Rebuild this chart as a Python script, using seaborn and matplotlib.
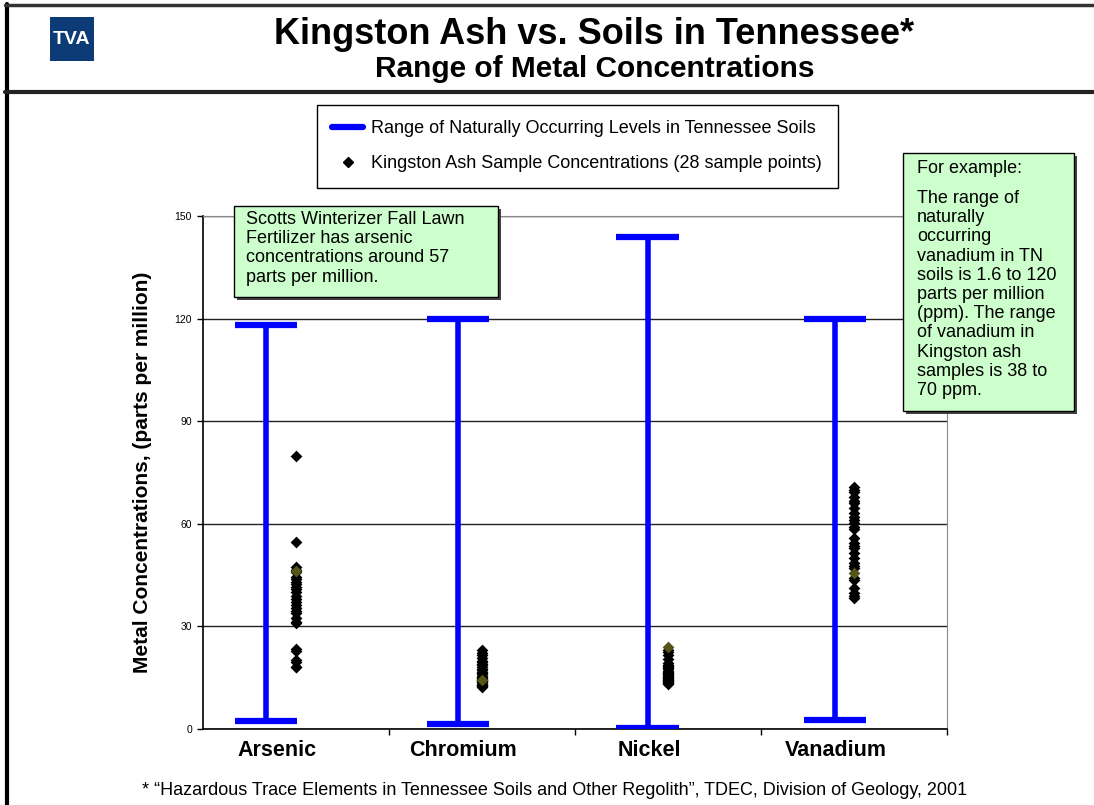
"""
Kingston Ash vs. Soils in Tennessee — rango de concentraciones de metales.
Barras azules = rango natural en suelos de TN; rombos = muestras de ceniza.
"""
import numpy as np
import pandas as pd
import matplotlib
matplotlib.use("Agg")
import matplotlib.pyplot as plt
from matplotlib.lines import Line2D
from matplotlib.patches import Rectangle
import seaborn as sns

# ===== datos =====
METALS = ["Arsenic", "Chromium", "Nickel", "Vanadium"]
SOIL_LOW = [2.3, 1.4, 0.2, 2.6]
SOIL_HIGH = [118, 120, 144, 120]

ARSENIC = [79.8, 54.8, 47.5, 46.5, 45.8, 44.5, 43.9, 43.1, 42.5, 41.6, 40.8, 40.0,
           38.9, 38.0, 37.2, 36.3, 35.5, 34.6, 33.8, 32.5, 31.4, 31.0, 23.3, 22.8,
           20.2, 19.5, 18.2, 18.0]
CHROMIUM = [23.0, 22.2, 21.5, 20.8, 20.0, 19.5, 19.0, 18.6, 18.0, 17.6, 17.2, 16.8,
            16.4, 16.0, 15.6, 15.3, 15.0, 14.7, 14.4, 14.2, 14.0, 13.8, 13.6, 13.3,
            13.0, 12.8, 12.6, 12.4]
NICKEL = [23.2, 22.4, 21.6, 20.4, 19.3, 18.8, 18.4, 18.0, 17.7, 17.4, 17.1, 16.8,
          16.5, 16.3, 16.0, 15.8, 15.5, 15.3, 15.0, 14.8, 14.6, 14.4, 14.2, 14.0,
          13.8, 13.6, 13.4, 13.3]
VANADIUM = [70.8, 70.0, 69.4, 67.9, 66.8, 66.0, 64.5, 63.1, 62.0, 61.1, 60.1, 59.2,
            58.5, 55.8, 54.3, 53.5, 52.8, 51.4, 49.9, 48.4, 47.8, 47.0, 44.1, 43.5,
            41.1, 39.7, 38.9, 38.2]
# muestras que aparecen en tono oliva en el original
OLIVE = [46.3, 14.3, 24.1, 45.5]

# ===== estilo / posiciones =====
W, H = 1094, 805
BLUE = "#0000ff"
GREEN_BOX = "#ccffcc"
RANGE_SHIFT = [-0.16, -0.13, -0.11, -0.10]   # las barras van algo a la izquierda
CAP_HALF = 0.167
LABEL_SHIFT = -0.1
FS = 13


def fx(x):
    return x / W


def fy(y):
    return 1 - y / H


def note_box(fig, x0, y0, x1, y1):
    """Caja verde con sombra, en píxeles de la figura."""
    fig.add_artist(Rectangle((fx(x0 + 3), fy(y1 + 3)), fx(x1 - x0), (y1 - y0) / H,
                             transform=fig.transFigure, fc="#444444", ec="none"))
    fig.add_artist(Rectangle((fx(x0), fy(y1)), fx(x1 - x0), (y1 - y0) / H,
                             transform=fig.transFigure, fc=GREEN_BOX, ec="black", lw=1))


sns.set_style("white")
plt.rcParams["font.family"] = ["Liberation Sans", "DejaVu Sans"]
for k in ["text.color", "axes.labelcolor", "xtick.color", "ytick.color"]:
    plt.rcParams[k] = "black"

samples = pd.DataFrame({
    "metal": np.repeat(METALS, 28),
    "ppm": ARSENIC + CHROMIUM + NICKEL + VANADIUM,
})
olive = pd.DataFrame({"metal": METALS, "ppm": OLIVE})

fig = plt.figure(figsize=(W / 100, H / 100), dpi=100)
ax = fig.add_axes([fx(203), fy(729), fx(947 - 203), (729 - 216) / H])

sns.stripplot(data=samples, x="metal", y="ppm", order=METALS, jitter=False,
              marker="D", color="black", size=6, linewidth=0, ax=ax, zorder=4)
sns.stripplot(data=olive, x="metal", y="ppm", order=METALS, jitter=False,
              marker="D", color="#55551a", size=6, linewidth=0, ax=ax, zorder=5)

xpos = np.arange(len(METALS)) + np.array(RANGE_SHIFT)
ax.vlines(xpos, SOIL_LOW, SOIL_HIGH, color=BLUE, lw=4, zorder=3)
ax.hlines(SOIL_LOW, xpos - CAP_HALF, xpos + CAP_HALF, color=BLUE, lw=4.5, zorder=3)
ax.hlines(SOIL_HIGH, xpos - CAP_HALF, xpos + CAP_HALF, color=BLUE, lw=4.5, zorder=3)

ax.set_xlim(-0.5, 3.5)
ax.set_ylim(0, 150)
ax.set_yticks(range(0, 151, 30))
ax.yaxis.grid(True, color="#222222", lw=1)
ax.set_axisbelow(True)
for s in ["top", "right"]:
    ax.spines[s].set_color("#888888")
for s in ["left", "bottom"]:
    ax.spines[s].set_color("black")
    ax.spines[s].set_linewidth(1.2)
ax.tick_params(axis="y", left=True, length=4, width=1, color="black",
               labelsize=7.5, pad=4)
ax.set_xticks(np.arange(len(METALS)) + LABEL_SHIFT)
ax.set_xticklabels(METALS, fontsize=15.5, fontweight="bold")
ax.set_xticks([0.5, 1.5, 2.5, 3.5], minor=True)
ax.tick_params(axis="x", which="major", length=0, pad=8)
ax.tick_params(axis="x", which="minor", bottom=True, length=4, width=1, color="black")
ax.set_xlabel("")
ax.set_ylabel("Metal Concentrations, (parts per million)", fontsize=15,
              fontweight="bold")
ax.yaxis.set_label_coords(-0.068, 0.5)

# leyenda
handles = [Line2D([], [], color=BLUE, lw=4.5),
           Line2D([], [], color="black", marker="D", ls="", markersize=5)]
leg = ax.legend(handles, ["Range of Naturally Occurring Levels in Tennessee Soils",
                          "Kingston Ash Sample Concentrations (28 sample points)"],
                loc="upper left", mode="expand",
                bbox_to_anchor=(fx(317), fy(187), fx(838 - 317), 82 / H),
                bbox_transform=fig.transFigure, fontsize=FS, frameon=True,
                fancybox=False, edgecolor="black", framealpha=1,
                borderpad=0.85, labelspacing=1.0, handlelength=1.7,
                handletextpad=0.45, borderaxespad=0)
leg.get_frame().set_linewidth(1)

# cajas de notas
note_box(fig, 234, 206, 498, 297)
fig.text(fx(246), fy(211), "Scotts Winterizer Fall Lawn\nFertilizer has arsenic\n"
         "concentrations around 57\nparts per million.", fontsize=FS,
         ha="left", va="top", linespacing=1.17)
note_box(fig, 903, 153, 1074, 411)
fig.text(fx(917), fy(160), "For example:", fontsize=FS, ha="left", va="top")
fig.text(fx(917), fy(190), "The range of\nnaturally\noccurring\nvanadium in TN\n"
         "soils is 1.6 to 120\nparts per million\n(ppm). The range\nof vanadium in\n"
         "Kingston ash\nsamples is 38 to\n70 ppm.", fontsize=FS, ha="left", va="top",
         linespacing=1.17)

# cabecera
fig.add_artist(Line2D([fx(7), fx(7)], [fy(4), 0], transform=fig.transFigure,
                      color="black", lw=3))
fig.add_artist(Line2D([fx(5), 1], [fy(5), fy(5)], transform=fig.transFigure,
                      color="#333333", lw=2.5))
fig.add_artist(Line2D([fx(5), 1], [fy(92), fy(92)], transform=fig.transFigure,
                      color="#222222", lw=3))
fig.add_artist(Rectangle((fx(50), fy(61)), fx(44), 44 / H, transform=fig.transFigure,
                         fc="#0c3b78", ec="none"))
fig.text(fx(72), fy(40), "TVA", color="white", fontsize=14, fontweight="bold",
         ha="center", va="center",
         family=["Liberation Sans Narrow", "Liberation Sans", "DejaVu Sans"])
fig.text(fx(594), fy(34), "Kingston Ash vs. Soils in Tennessee*", fontsize=26,
         fontweight="bold", ha="center", va="center")
fig.text(fx(595), fy(69), "Range of Metal Concentrations", fontsize=21.5,
         fontweight="bold", ha="center", va="center")

fig.text(fx(555), fy(790), "* \u201cHazardous Trace Elements in Tennessee Soils and "
         "Other Regolith\u201d, TDEC, Division of Geology, 2001", fontsize=FS,
         ha="center", va="center")

fig.savefig("out.png", dpi=100)
plt.close(fig)
